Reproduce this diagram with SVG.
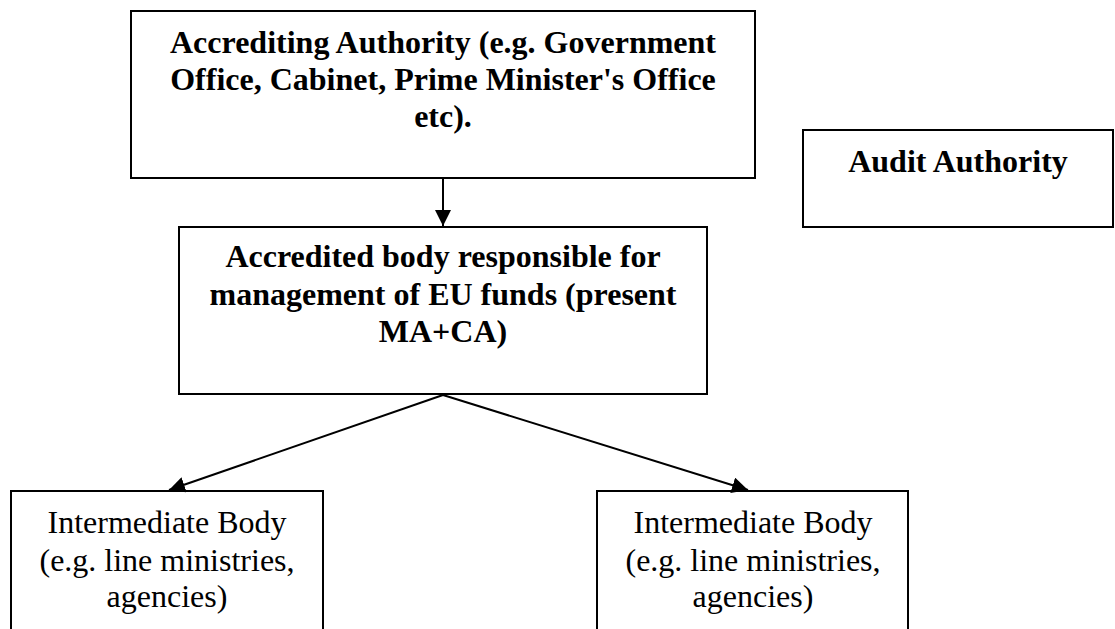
<svg xmlns="http://www.w3.org/2000/svg" width="1115" height="629" viewBox="0 0 1115 629">
<style>
.box{fill:#fff;stroke:#000;stroke-width:2}
.b{font-family:"Liberation Serif","Times New Roman",serif;font-size:32px;font-weight:bold;text-anchor:middle;fill:#000}
.r{font-family:"Liberation Serif","Times New Roman",serif;font-size:32px;text-anchor:middle;fill:#000}
.c{stroke:#000;stroke-width:2;fill:none}
</style>
<defs>
<marker id="ah2" viewBox="0 0 16 16" refX="16" refY="8" markerWidth="16" markerHeight="16" markerUnits="userSpaceOnUse" orient="auto">
<path d="M0,0 L16,8 L0,16 z" fill="#000"/>
</marker>
</defs>
<g id="accrediting-authority">
<rect class="box" x="131" y="11" width="624" height="167"/>
<text class="b" x="443" y="53">Accrediting Authority (e.g. Government</text>
<text class="b" x="443" y="90">Office, Cabinet, Prime Minister's Office</text>
<text class="b" x="443" y="127">etc).</text>
</g>
<g id="audit-authority">
<rect class="box" x="803" y="130" width="310" height="97"/>
<text class="b" x="958" y="172">Audit Authority</text>
</g>
<g id="accredited-body">
<rect class="box" x="179" y="227" width="528" height="167"/>
<text class="b" x="443" y="267">Accredited body responsible for</text>
<text class="b" x="443" y="305">management of EU funds (present</text>
<text class="b" x="443" y="342">MA+CA)</text>
</g>
<g id="intermediate-body-1">
<rect class="box" x="11" y="491" width="312" height="160"/>
<text class="r" x="167" y="533">Intermediate Body</text>
<text class="r" x="167" y="571">(e.g. line ministries,</text>
<text class="r" x="167" y="607">agencies)</text>
</g>
<g id="intermediate-body-2">
<rect class="box" x="597" y="491" width="311" height="160"/>
<text class="r" x="753" y="533">Intermediate Body</text>
<text class="r" x="753" y="571">(e.g. line ministries,</text>
<text class="r" x="753" y="607">agencies)</text>
</g>
<g id="connectors">
<line class="c" x1="443" y1="178" x2="443" y2="226" marker-end="url(#ah2)"/>
<line class="c" x1="443" y1="395" x2="169" y2="490" marker-end="url(#ah2)"/>
<line class="c" x1="443" y1="395" x2="748" y2="490" marker-end="url(#ah2)"/>
</g>
</svg>
